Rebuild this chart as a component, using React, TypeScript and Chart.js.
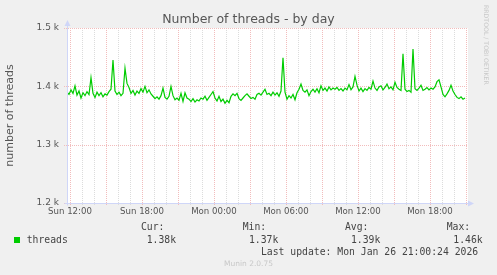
import React, { useEffect, useRef } from 'react';
import { Chart, registerables } from 'chart.js';

Chart.register(...registerables);

// Time axis: hours counted from Sun 00:00 (Sun 12:00 = 12, Mon 00:00 = 24)
const START_HOUR = 11.75; // first sample, Sun 11:45
const STEP_HOURS = 1 / 6; // 10-minute samples
const X_MIN = 11.75;
const X_MAX = 45.1667;

const threads = [
  1390, 1386, 1394, 1388, 1401, 1385, 1392, 1380, 1389, 1384, 1391, 1386,
  1415, 1388, 1381, 1390, 1384, 1389, 1382, 1387, 1385, 1391, 1395, 1445,
  1392, 1386, 1390, 1384, 1388, 1431, 1405, 1398, 1388, 1393, 1385,
  1392, 1388, 1396, 1390, 1400, 1389, 1394, 1387, 1383, 1379, 1382, 1378,
  1384, 1397, 1381, 1378, 1383, 1400, 1384, 1377, 1380, 1376, 1388, 1374,
  1389, 1380, 1378, 1374, 1379, 1373, 1377, 1375, 1380,
  1378, 1383, 1376, 1381, 1386, 1391, 1380, 1375, 1383, 1374, 1378, 1371,
  1376, 1372, 1383, 1387, 1384, 1388, 1379, 1376, 1380, 1384, 1387, 1383,
  1379, 1381, 1378, 1386, 1388, 1385, 1390, 1395, 1386, 1388,
  1384, 1390, 1385, 1389, 1383, 1392, 1449, 1390, 1378, 1384, 1380, 1386,
  1377, 1389, 1395, 1404, 1393, 1390, 1394, 1384, 1391, 1395, 1390, 1396,
  1389, 1401, 1393, 1397, 1392, 1399, 1394, 1397, 1395, 1398,
  1393, 1396, 1392, 1397, 1394, 1403, 1394, 1399, 1417, 1402, 1392, 1397,
  1391, 1396, 1393, 1398, 1395, 1409, 1397, 1393, 1399, 1401, 1394, 1398,
  1404, 1396, 1399, 1394, 1407, 1398, 1395, 1393, 1456, 1395, 1391,
  1393, 1390, 1464, 1396, 1393, 1397, 1402, 1393, 1395, 1398, 1394, 1397,
  1395, 1399, 1408, 1411, 1399, 1386, 1382, 1387, 1393, 1402, 1392, 1386,
  1381, 1379, 1382, 1378, 1380,
];

const xTickHours = [12, 18, 24, 30, 36, 42];
const xTickLabels = ['Sun 12:00', 'Sun 18:00', 'Mon 00:00', 'Mon 06:00', 'Mon 12:00', 'Mon 18:00'];
const yTickValues = [1200, 1300, 1400, 1500];
const yTickLabels = ['1.2 k', '1.3 k', '1.4 k', '1.5 k'];

const seriesName = 'threads';
const statLabels = ['Cur:', 'Min:', 'Avg:', 'Max:'];
const statValues = ['1.38k', '1.37k', '1.39k', '1.46k'];
const lastUpdate = 'Last update: Mon Jan 26 21:00:24 2026';
const titleText = 'Number of threads - by day';
const yAxisTitle = 'number of threads';

const LINE_COLOR = '#00cc00';
const MAJOR_GRID = '#f2bcbc';
const MINOR_GRID = '#dcdcdc';
const AXIS_COLOR = '#cfd6f8';
const TEXT_COLOR = '#555555';
const SANS = "'DejaVu Sans', Verdana, sans-serif";
const MONO = "'DejaVu Sans Mono', monospace";

const muninPlugin = {
  id: 'muninDecor',
  beforeDatasetsDraw(chart: any) {
    const { ctx, chartArea: a } = chart;
    const xs = chart.scales.x;
    const ys = chart.scales.y;
    ctx.save();
    ctx.fillStyle = '#ffffff';
    ctx.fillRect(a.left, a.top, a.right - a.left, a.bottom - a.top);
    ctx.lineWidth = 1;
    ctx.setLineDash([1, 1]);
    for (let h = Math.ceil(X_MIN); h <= X_MAX; h++) {
      const x = Math.round(xs.getPixelForValue(h)) + 0.5;
      ctx.strokeStyle = h % 3 === 0 ? MAJOR_GRID : MINOR_GRID;
      ctx.beginPath();
      ctx.moveTo(x, a.top);
      ctx.lineTo(x, a.bottom + 2);
      ctx.stroke();
    }
    for (const v of yTickValues) {
      const y = Math.round(ys.getPixelForValue(v)) + 0.5;
      ctx.strokeStyle = MAJOR_GRID;
      ctx.beginPath();
      ctx.moveTo(a.left - 3, y);
      ctx.lineTo(a.right, y);
      ctx.stroke();
    }
    ctx.restore();
  },
  afterDatasetsDraw(chart: any) {
    const { ctx, chartArea: a } = chart;
    ctx.save();
    ctx.setLineDash([]);
    ctx.strokeStyle = AXIS_COLOR;
    ctx.fillStyle = AXIS_COLOR;
    ctx.lineWidth = 1;
    const x0 = Math.round(a.left) + 0.5;
    const y0 = Math.round(a.bottom) + 0.5;
    // y axis
    ctx.beginPath();
    ctx.moveTo(x0, y0 + 2);
    ctx.lineTo(x0, a.top - 4);
    ctx.stroke();
    ctx.beginPath();
    ctx.moveTo(x0, a.top - 8);
    ctx.lineTo(x0 - 3, a.top - 2);
    ctx.lineTo(x0 + 3, a.top - 2);
    ctx.closePath();
    ctx.fill();
    // x axis
    ctx.beginPath();
    ctx.moveTo(x0 - 3, y0);
    ctx.lineTo(a.right + 2, y0);
    ctx.stroke();
    ctx.beginPath();
    ctx.moveTo(a.right + 6, y0);
    ctx.lineTo(a.right, y0 - 3);
    ctx.lineTo(a.right, y0 + 3);
    ctx.closePath();
    ctx.fill();
    ctx.restore();
  },
};

const abs = (left: number, top: number, extra: any = {}): React.CSSProperties => ({
  position: 'absolute',
  left,
  top,
  whiteSpace: 'pre',
  margin: 0,
  padding: 0,
  ...extra,
});

export default function App() {
  const canvasRef = useRef<HTMLCanvasElement | null>(null);

  useEffect(() => {
    const canvas = canvasRef.current;
    if (!canvas) return;
    const chart = new Chart(canvas, {
      type: 'line',
      data: {
        datasets: [
          {
            label: seriesName,
            data: threads.map((v, i) => ({ x: START_HOUR + i * STEP_HOURS, y: v })),
            borderColor: LINE_COLOR,
            backgroundColor: LINE_COLOR,
            borderWidth: 1.2,
            pointRadius: 0,
            tension: 0,
            fill: false,
          },
        ],
      },
      options: {
        animation: false,
        responsive: false,
        events: [],
        layout: { padding: { left: 0, right: 29, top: 28, bottom: 0 } },
        plugins: {
          legend: { display: false },
          tooltip: { enabled: false },
          title: { display: false },
        },
        scales: {
          x: {
            type: 'linear',
            min: X_MIN,
            max: X_MAX,
            grid: { display: false, drawTicks: false },
            border: { display: false },
            afterFit: (s: any) => {
              s.height = 72;
            },
            afterBuildTicks: (s: any) => {
              s.ticks = xTickHours.map((h) => ({ value: h }));
            },
            ticks: {
              autoSkip: false,
              maxRotation: 0,
              padding: 4,
              color: TEXT_COLOR,
              font: { family: SANS, size: 8.6 },
              callback: (v: any) => {
                const idx = xTickHours.indexOf(Number(v));
                return idx >= 0 ? xTickLabels[idx] : '';
              },
            },
          },
          y: {
            type: 'linear',
            min: 1200,
            max: 1500,
            grid: { display: false, drawTicks: false },
            border: { display: false },
            afterFit: (s: any) => {
              s.width = 67;
            },
            afterBuildTicks: (s: any) => {
              s.ticks = yTickValues.map((v) => ({ value: v }));
            },
            title: {
              display: true,
              text: yAxisTitle,
              color: TEXT_COLOR,
              font: { family: SANS, size: 11 },
              padding: { top: 4, bottom: 0 },
            },
            ticks: {
              padding: 8,
              color: TEXT_COLOR,
              font: { family: SANS, size: 9 },
              callback: (v: any) => {
                const idx = yTickValues.indexOf(Number(v));
                return idx >= 0 ? yTickLabels[idx] : '';
              },
            },
          },
        },
      } as any,
      plugins: [muninPlugin],
    });
    return () => chart.destroy();
  }, []);

  const monoStyle = { fontFamily: MONO, fontSize: 9.75, lineHeight: '12px', color: '#444' };
  const statLeft = [141, 242.7, 345, 446.7];
  const valueLeft = [146.7, 249, 351, 453.3];

  return (
    <div
      style={{
        position: 'absolute',
        left: 0,
        top: 0,
        width: 497,
        height: 275,
        background: '#f0f0f0',
        overflow: 'hidden',
      }}
    >
      <canvas ref={canvasRef} width={497} height={275} style={{ position: 'absolute', left: 0, top: 0, width: 497, height: 275 }} />
      <div
        style={abs(0, 11, {
          width: 497,
          textAlign: 'center',
          fontFamily: SANS,
          fontSize: 12.5,
          lineHeight: '16px',
          color: TEXT_COLOR,
        })}
      >
        {titleText}
      </div>
      <div
        style={abs(481, 5, {
          writingMode: 'vertical-rl',
          fontFamily: SANS,
          fontSize: 6.2,
          lineHeight: '10px',
          color: '#c8c8c8',
        })}
      >
        RRDTOOL / TOBI OETIKER
      </div>
      <div style={abs(14, 237, { width: 6, height: 6, background: LINE_COLOR })} />
      <div style={abs(26.7, 233.5, monoStyle)}>{seriesName}</div>
      {statLabels.map((t, i) => (
        <div key={t} style={abs(statLeft[i], 221.3, monoStyle)}>
          {t}
        </div>
      ))}
      {statValues.map((t, i) => (
        <div key={'v' + i} style={abs(valueLeft[i], 233.5, monoStyle)}>
          {t}
        </div>
      ))}
      <div style={abs(261, 245.7, monoStyle)}>{lastUpdate}</div>
      <div
        style={abs(0, 257.5, {
          width: 497,
          textAlign: 'center',
          fontFamily: SANS,
          fontSize: 7.5,
          lineHeight: '12px',
          color: '#c8c8c8',
        })}
      >
        Munin 2.0.75
      </div>
    </div>
  );
}
